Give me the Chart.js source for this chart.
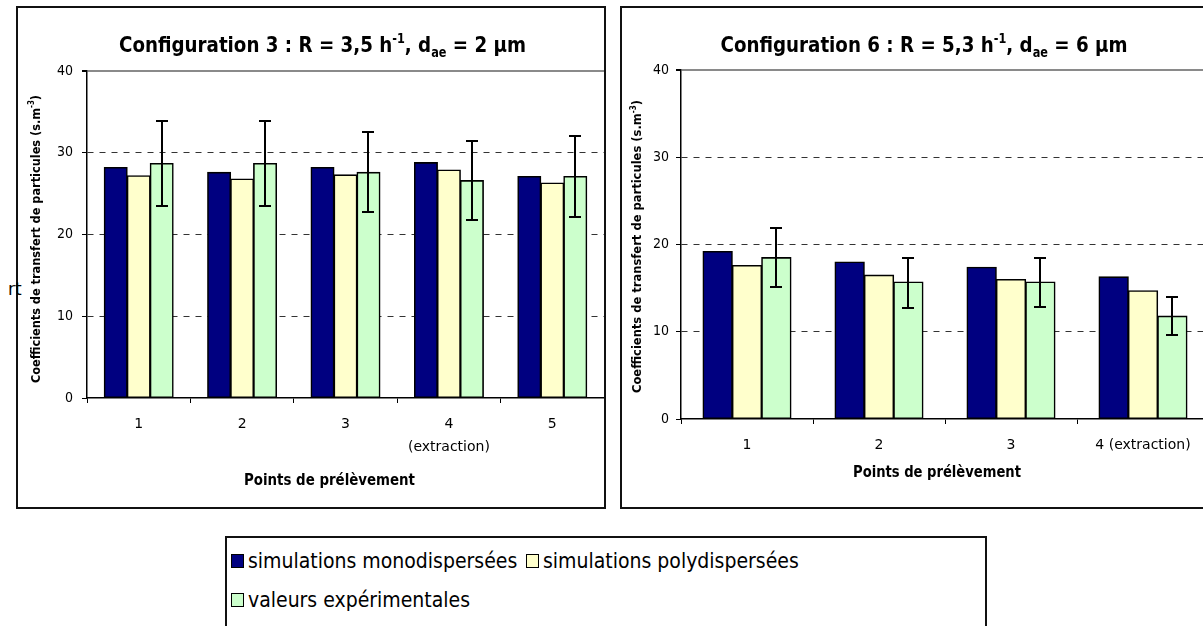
<!DOCTYPE html>
<html>
<head>
<meta charset="utf-8">
<script src="https://cdn.jsdelivr.net/npm/chart.js@4/dist/chart.umd.min.js"></script>
<style>
    html, body { margin: 0; padding: 0; background: #fff; overflow: hidden; width: 1203px; height: 626px; }
    .frame { position: absolute; border: 2px solid #111; box-sizing: border-box; }
    .wrap { position: absolute; }
    .wrap canvas { display: block; }
    #stray { position: absolute; left: 8px; top: 281px; font: 17px "DejaVu Sans", sans-serif; line-height: 17px; color: #000; }
    #legend { position: absolute; left: 225px; top: 536px; width: 762px; height: 200px; border: 2px solid #111; box-sizing: border-box;
              padding: 3px 0 0 4px; display: flex; flex-wrap: wrap; align-content: flex-start; }
    #legend .item { width: 295px; height: 39px; display: flex; align-items: center; font: 21px "DejaVu Sans Condensed", "DejaVu Sans", sans-serif; color: #000; white-space: nowrap; }
    #legend .box { width: 11px; height: 12px; border: 1px solid #000; margin-right: 4px; flex: none; }
</style>
</head>
<body>
<div class="frame" style="left:16px;top:6px;width:590px;height:503px"></div>
<div class="frame" style="left:620px;top:6px;width:700px;height:503px"></div>
<div id="stray">rt</div>
<div class="wrap" style="left:18px;top:8px"><canvas id="chart3" width="586" height="499"></canvas></div>
<div class="wrap" style="left:622px;top:8px"><canvas id="chart6" width="600" height="499"></canvas></div>
<div id="legend"></div>

<script>
// --- data ---
const seriesNames = ['simulations monodispersées', 'simulations polydispersées', 'valeurs expérimentales'];
const seriesColors = ['#000080', '#FFFFCC', '#CCFFCC'];
const yTicks = [0, 10, 20, 30, 40];

// configuration 3
const categories3 = ['1', '2', '3', ['4', '(extraction)'], '5'];
const mono3 = [28.2, 27.6, 28.2, 28.8, 27.1];
const poly3 = [27.2, 26.8, 27.3, 27.9, 26.3];
const exp3 = [28.7, 28.7, 27.6, 26.6, 27.1];
const expLow3 = [23.5, 23.5, 22.7, 21.8, 22.2];
const expHigh3 = [33.9, 33.9, 32.5, 31.4, 32.0];

// configuration 6
const categories6 = ['1', '2', '3', '4 (extraction)'];
const mono6 = [19.2, 18.0, 17.4, 16.3];
const poly6 = [17.6, 16.5, 16.0, 14.7];
const exp6 = [18.5, 15.7, 15.7, 11.8];
const expLow6 = [15.1, 12.7, 12.8, 9.6];
const expHigh6 = [21.9, 18.5, 18.5, 14.0];

const yTitle = [{ t: 'Coefficients de transfert de particules (s.m' }, { t: '-3', sup: true }, { t: ')' }];
const xTitle = [{ t: 'Points de prélèvement' }];

// draws bold text with sup/sub parts, squeezed to a given width
function drawRich(ctx, segs, x, y, width, size, angle) {
    const fontOf = s => `bold ${s}px "DejaVu Sans Condensed", "DejaVu Sans", sans-serif`;
    const sizeOf = s => (s.sup || s.sub) ? size * 0.62 : size;
    ctx.save();
    ctx.translate(x, y);
    if (angle) ctx.rotate(angle);
    let natural = 0;
    segs.forEach(s => { ctx.font = fontOf(sizeOf(s)); natural += ctx.measureText(s.t).width; });
    ctx.scale(width / natural, 1);
    ctx.fillStyle = '#000';
    ctx.textAlign = 'left';
    ctx.textBaseline = 'alphabetic';
    let cx = -natural / 2;
    segs.forEach(s => {
        ctx.font = fontOf(sizeOf(s));
        const dy = s.sup ? -size * 0.42 : s.sub ? size * 0.22 : 0;
        ctx.fillText(s.t, cx, dy);
        cx += ctx.measureText(s.t).width;
    });
    ctx.restore();
}

const panelText = {
    id: 'panelText',
    afterDraw(chart, args, o) {
        const ctx = chart.ctx;
        drawRich(ctx, o.title, o.titleX, 44, 407, 22, 0);
        drawRich(ctx, yTitle, o.yTitleX, o.yTitleY, o.yTitleLen, 13, -Math.PI / 2);
        drawRich(ctx, xTitle, o.xTitleX, o.xTitleY, o.xTitleW, 16, 0);
    }
};

const errorBars = {
    id: 'errorBars',
    afterDatasetsDraw(chart, args, o) {
        const meta = chart.getDatasetMeta(2);
        const y = chart.scales.y;
        const ctx = chart.ctx;
        ctx.save();
        ctx.strokeStyle = '#000';
        ctx.lineWidth = 2;
        meta.data.forEach((bar, i) => {
            const top = Math.round(y.getPixelForValue(o.high[i]));
            const bot = Math.round(y.getPixelForValue(o.low[i]));
            const x = Math.round(bar.x);
            ctx.beginPath();
            ctx.moveTo(x, top); ctx.lineTo(x, bot);
            ctx.moveTo(x - 6, top); ctx.lineTo(x + 6, top);
            ctx.moveTo(x - 6, bot); ctx.lineTo(x + 6, bot);
            ctx.stroke();
        });
        ctx.restore();
    }
};

function makeChart(id, labels, values, low, high, area, text) {
    return new Chart(document.getElementById(id), {
        type: 'bar',
        data: {
            labels: labels,
            datasets: values.map((v, i) => ({
                label: seriesNames[i],
                data: v,
                backgroundColor: seriesColors[i],
                borderColor: '#000',
                borderWidth: 1.6,
                borderSkipped: false,
                inflateAmount: 0.5,
                categoryPercentage: 0.667,
                barPercentage: 1.0
            }))
        },
        options: {
            responsive: false,
            animation: false,
            layout: { padding: area.padding },
            plugins: {
                legend: { display: false },
                tooltip: { enabled: false },
                title: { display: false },
                errorBars: { low: low, high: high },
                panelText: text
            },
            scales: {
                x: {
                    afterFit: s => { s.height = 60; },
                    grid: { offset: true, drawOnChartArea: false, tickLength: 5, color: '#000', tickColor: '#000' },
                    border: { display: true, color: '#000', width: 1.5 },
                    ticks: { color: '#000', padding: 9.5, maxRotation: 0, autoSkip: false,
                             font: { family: '"DejaVu Sans", sans-serif', size: 14, lineHeight: 1.64 } }
                },
                y: {
                    min: 0, max: 40,
                    afterFit: s => { s.width = area.yWidth; },
                    afterBuildTicks: s => { s.ticks = yTicks.map(v => ({ value: v })); },
                    grid: {
                        tickLength: 5,
                        tickColor: '#000',
                        tickBorderDash: [],
                        color: c => c.tick.value === 0 ? 'rgba(0,0,0,0)' : c.tick.value === 40 ? '#8a8a8a' : '#333',
                        lineWidth: c => c.tick.value === 40 ? 2 : 1
                    },
                    border: { display: true, color: '#000', width: 1.5,
                              dash: c => (c.tick && c.tick.value === 40) ? [] : [6, 6] },
                    ticks: { color: '#000', padding: area.tickPad,
                             font: { family: '"DejaVu Sans Condensed", "DejaVu Sans", sans-serif', size: 14 } }
                }
            }
        },
        plugins: [errorBars, panelText]
    });
}

makeChart('chart3', categories3, [mono3, poly3, exp3], expLow3, expHigh3,
    { padding: { left: 0, top: 63, right: 0, bottom: 49 }, yWidth: 69, tickPad: 9 },
    { title: [{ t: 'Configuration 3 : R = 3,5 h' }, { t: '-1', sup: true }, { t: ', d' }, { t: 'ae', sub: true }, { t: ' = 2 µm' }],
      titleX: 304.5, yTitleX: 21.5, yTitleY: 231, yTitleLen: 288, xTitleX: 311.5, xTitleY: 477, xTitleW: 171 });

makeChart('chart6', categories6, [mono6, poly6, exp6], expLow6, expHigh6,
    { padding: { left: 0, top: 62, right: 13, bottom: 28 }, yWidth: 59, tickPad: 7 },
    { title: [{ t: 'Configuration 6 : R = 5,3 h' }, { t: '-1', sup: true }, { t: ', d' }, { t: 'ae', sub: true }, { t: ' = 6 µm' }],
      titleX: 302, yTitleX: 19, yTitleY: 238.5, yTitleLen: 293, xTitleX: 315, xTitleY: 469, xTitleW: 168 });

// --- legend ---
const legend = document.getElementById('legend');
seriesNames.forEach((name, i) => {
    const item = document.createElement('div');
    item.className = 'item';
    const box = document.createElement('span');
    box.className = 'box';
    box.style.background = seriesColors[i];
    item.appendChild(box);
    item.appendChild(document.createTextNode(name));
    legend.appendChild(item);
});
</script>
</body>
</html>
